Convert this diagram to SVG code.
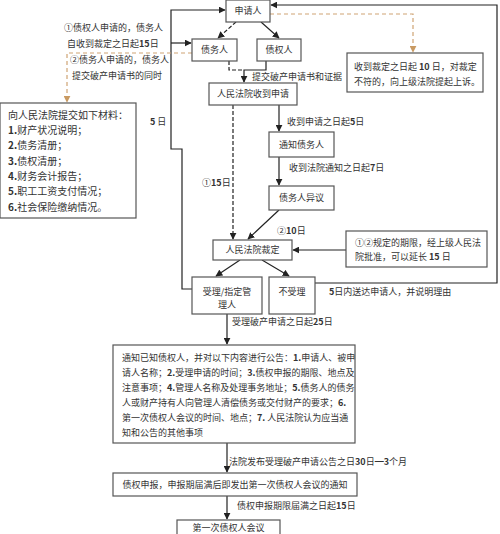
<svg xmlns="http://www.w3.org/2000/svg" width="500" height="534" viewBox="0 0 500 534">
<style>
text{font-family:"Noto Sans CJK SC","Liberation Serif",sans-serif;font-size:9px;fill:#333}
.c{text-anchor:middle}
.b{font-weight:bold}
.box{fill:#fff;stroke:#555;stroke-width:1.2}
.ln{fill:none;stroke:#222;stroke-width:1.2}
.dk{stroke-dasharray:4 2}
.or{fill:none;stroke:#cfa474;stroke-width:1.2;stroke-dasharray:4 3}
</style>
<defs>
<marker id="a" viewBox="0 0 10 10" refX="9" refY="5" markerWidth="7" markerHeight="7" markerUnits="userSpaceOnUse" orient="auto"><path d="M0,0 L10,5 L0,10 z" fill="#222"/></marker>
<marker id="o" viewBox="0 0 10 10" refX="9" refY="5" markerWidth="7" markerHeight="7" markerUnits="userSpaceOnUse" orient="auto"><path d="M0,0 L10,5 L0,10 z" fill="#c99a62"/></marker>
</defs>
<rect width="500" height="534" fill="#fff"/>
<g id="connectors">
<line class="ln dk" x1="236" y1="22" x2="218" y2="38" marker-end="url(#a)"/>
<line class="ln" x1="261" y1="22" x2="279" y2="38" marker-end="url(#a)"/>
<polyline class="ln dk" points="229,61 229,70 244,70"/>
<polyline class="ln" points="266,61 266,70 244,70 244,82" marker-end="url(#a)"/>
<polyline class="ln" points="192,289 182,289 182,149 171,149 171,10 225,10" marker-end="url(#a)"/>
<line class="ln" x1="171" y1="43" x2="191" y2="43" marker-end="url(#a)"/>
<polyline class="ln" points="315,283 497,283 497,5 271,5" marker-end="url(#a)"/>
<polyline class="or" points="270,14 413,14 413,52" marker-end="url(#o)"/>
<polyline class="or" points="192,53 67,53 67,102" marker-end="url(#o)"/>
<line class="ln dk" x1="233" y1="105" x2="233" y2="239" marker-end="url(#a)"/>
<line class="ln" x1="279" y1="105" x2="279" y2="131" marker-end="url(#a)"/>
<line class="ln" x1="279" y1="157" x2="279" y2="185" marker-end="url(#a)"/>
<line class="ln" x1="279" y1="210" x2="248" y2="239" marker-end="url(#a)"/>
<line class="ln" x1="346" y1="250" x2="293" y2="250" marker-end="url(#a)"/>
<line class="ln" x1="240" y1="260" x2="216" y2="276" marker-end="url(#a)"/>
<line class="ln" x1="262" y1="260" x2="289" y2="276" marker-end="url(#a)"/>
<line class="ln" x1="227" y1="314" x2="227" y2="344" marker-end="url(#a)"/>
<line class="ln" x1="227" y1="443" x2="227" y2="472" marker-end="url(#a)"/>
<line class="ln" x1="227" y1="496" x2="227" y2="519" marker-end="url(#a)"/>
</g>
<g id="labels">
<text x="64" y="31">①债权人申请的，债务人</text>
<text x="67" y="47">自收到裁定之日起<tspan class="b">15</tspan>日</text>
<text x="70" y="63">②债务人申请的，债务人</text>
<text x="72" y="79">提交破产申请书的同时</text>
<text x="252" y="80">提交破产申请书和证据</text>
<text x="150" y="125"><tspan class="b">5</tspan> 日</text>
<text x="287" y="125">收到申请之日起<tspan class="b">5</tspan>日</text>
<text x="289" y="171">收到法院通知之日起<tspan class="b">7</tspan>日</text>
<text x="202" y="186">①<tspan class="b">15</tspan>日</text>
<text x="277" y="234">②<tspan class="b">10</tspan>日</text>
<text x="329" y="295"><tspan class="b">5</tspan>日内送达申请人，并说明理由</text>
<text x="232" y="325">受理破产申请之日起<tspan class="b">25</tspan>日</text>
<text x="229" y="465">法院发布受理破产申请公告之日<tspan class="b">30</tspan>日━<tspan class="b">3</tspan>个月</text>
<text x="237" y="509">债权申报期限届满之日起<tspan class="b">15</tspan>日</text>
</g>
<g id="n-applicant"><rect class="box" x="226" y="0" width="44" height="22"/><text class="c" x="248" y="14">申请人</text></g>
<g id="n-debtor"><rect class="box" x="192" y="39" width="45" height="22"/><text class="c" x="214.5" y="53">债务人</text></g>
<g id="n-creditor"><rect class="box" x="257" y="39" width="44" height="22"/><text class="c" x="279" y="53">债权人</text></g>
<g id="n-received"><rect class="box" x="209" y="83" width="88" height="22"/><text class="c" x="253" y="97">人民法院收到申请</text></g>
<g id="n-appeal"><rect class="box" x="347" y="53" width="136" height="39"/><text x="354" y="70">收到裁定之日起 <tspan class="b">10</tspan> 日，对裁定</text><text x="354" y="85">不符的，向上级法院提起上诉。</text></g>
<g id="n-materials"><rect class="box" x="0" y="103" width="136" height="115"/>
<text x="8" y="119" style="font-size:10px">向人民法院提交如下材料：</text>
<text x="8" y="134" style="font-size:10px"><tspan class="b">1.</tspan>财产状况说明；</text>
<text x="8" y="149" style="font-size:10px"><tspan class="b">2.</tspan>债务清册；</text>
<text x="8" y="165" style="font-size:10px"><tspan class="b">3.</tspan>债权清册；</text>
<text x="8" y="180" style="font-size:10px"><tspan class="b">4.</tspan>财务会计报告；</text>
<text x="8" y="195" style="font-size:10px"><tspan class="b">5.</tspan>职工工资支付情况；</text>
<text x="8" y="211" style="font-size:10px"><tspan class="b">6.</tspan>社会保险缴纳情况。</text>
</g>
<g id="n-notify"><rect class="box" x="269" y="132" width="65" height="25"/><text class="c" x="301.5" y="148">通知债务人</text></g>
<g id="n-objection"><rect class="box" x="269" y="186" width="65" height="24"/><text class="c" x="301.5" y="201">债务人异议</text></g>
<g id="n-ruling"><rect class="box" x="213" y="240" width="79" height="20"/><text class="c" x="252.5" y="253">人民法院裁定</text></g>
<g id="n-extend"><rect class="box" x="346" y="231" width="141" height="36"/><text x="355" y="246">①②规定的期限，经上级人民法</text><text x="355" y="260">院批准，可以延长 <tspan class="b">15</tspan> 日</text></g>
<g id="n-accept"><rect class="box" x="192" y="277" width="70" height="37"/><text class="c" x="227" y="295">受理/指定管</text><text class="c" x="227" y="308">理人</text></g>
<g id="n-reject"><rect class="box" x="269" y="277" width="46" height="37"/><text class="c" x="292" y="295">不受理</text></g>
<g id="n-announce"><rect class="box" x="113" y="345" width="242" height="98"/>
<text x="122" y="361">通知已知债权人，并对以下内容进行公告：<tspan class="b">1.</tspan>申请人、被申</text>
<text x="122" y="376">请人名称；<tspan class="b">2.</tspan>受理申请的时间；<tspan class="b">3.</tspan>债权申报的期限、地点及</text>
<text x="122" y="391">注意事项；<tspan class="b">4.</tspan>管理人名称及处理事务地址；<tspan class="b">5.</tspan>债务人的债务</text>
<text x="122" y="406">人或财产持有人向管理人清偿债务或交付财产的要求；<tspan class="b">6.</tspan></text>
<text x="122" y="421">第一次债权人会议的时间、地点；<tspan class="b">7.</tspan> 人民法院认为应当通</text>
<text x="122" y="436">知和公告的其他事项</text>
</g>
<g id="n-claims"><rect class="box" x="113" y="473" width="244" height="23"/><text class="c" x="235" y="488">债权申报，申报期届满后即发出第一次债权人会议的通知</text></g>
<g id="n-meeting"><rect class="box" x="177" y="520" width="103" height="22"/><text class="c" x="228.5" y="531">第一次债权人会议</text></g>
</svg>
